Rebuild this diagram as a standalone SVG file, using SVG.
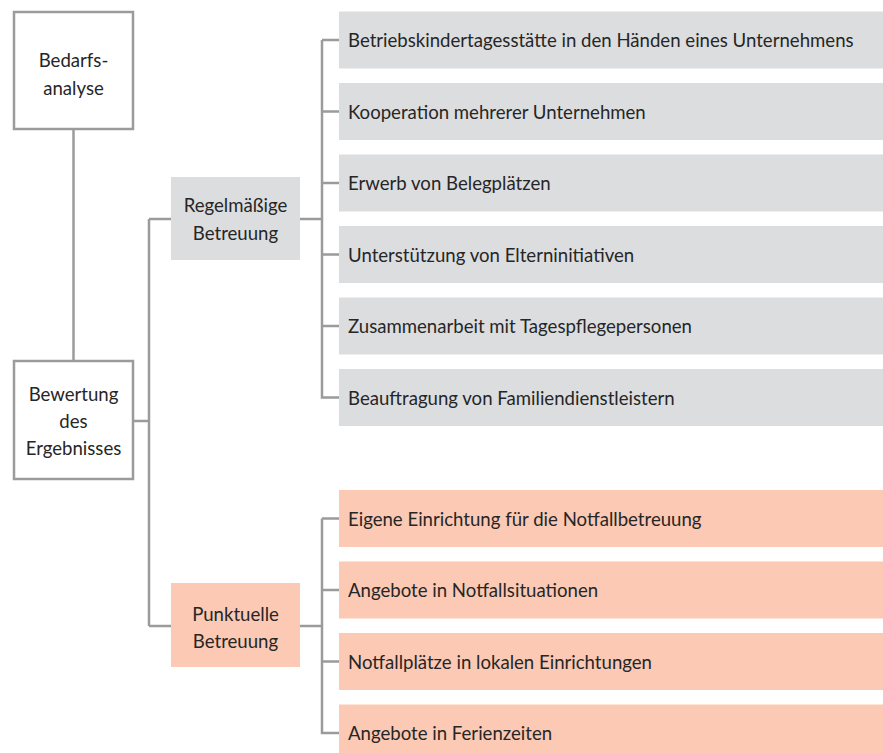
<svg xmlns="http://www.w3.org/2000/svg" width="883" height="753" viewBox="0 0 883 753">
<style>
.ln{fill:none;stroke:#9b9b9b;stroke-width:2.5}
.wb{fill:#fff;stroke:#9b9b9b;stroke-width:2.5}
.gb{fill:#dcdddf}
.pb{fill:#fbc9b4}
text{font-family:"Lato","Open Sans",sans-serif;font-size:18.6px;fill:#262626}
.c{text-anchor:middle}
</style>
<rect width="883" height="753" fill="#fff"/>
<g id="connectors">
<path class="ln" d="M73.5 129V361"/>
<path class="ln" d="M133 421H149M149 219V626M149 219H171M149 626H171"/>
<path class="ln" d="M300 219H322M322 40V397.5H339M322 40H339M322 111.5H339M322 183H339M322 254.5H339M322 326H339"/>
<path class="ln" d="M300 626H322M322 518.5V733H339M322 518.5H339M322 590H339M322 661.5H339"/>
</g>
<g id="n-bedarf"><rect class="wb" x="14" y="12" width="119" height="117"/><text class="c" x="73.5" y="67">Bedarfs-</text><text class="c" x="73.5" y="95">analyse</text></g>
<g id="n-bewertung"><rect class="wb" x="14" y="361" width="119" height="118"/><text class="c" x="73.5" y="401">Bewertung</text><text class="c" x="73.5" y="428">des</text><text class="c" x="73.5" y="455">Ergebnisses</text></g>
<g id="n-regel"><rect class="gb" x="171" y="177" width="129" height="83"/><text class="c" x="235.5" y="212">Regelmäßige</text><text class="c" x="235.5" y="240">Betreuung</text></g>
<g id="n-punkt"><rect class="pb" x="171" y="583" width="129" height="84"/><text class="c" x="235.5" y="621">Punktuelle</text><text class="c" x="235.5" y="648">Betreuung</text></g>
<g id="g1"><rect class="gb" x="339" y="11.5" width="544" height="57"/><text x="348" y="47">Betriebskindertagesstätte in den Händen eines Unternehmens</text></g>
<g id="g2"><rect class="gb" x="339" y="83" width="544" height="57"/><text x="348" y="118.5">Kooperation mehrerer Unternehmen</text></g>
<g id="g3"><rect class="gb" x="339" y="154.5" width="544" height="57"/><text x="348" y="190">Erwerb von Belegplätzen</text></g>
<g id="g4"><rect class="gb" x="339" y="226" width="544" height="57"/><text x="348" y="261.5">Unterstützung von Elterninitiativen</text></g>
<g id="g5"><rect class="gb" x="339" y="297.5" width="544" height="57"/><text x="348" y="333">Zusammenarbeit mit Tagespflegepersonen</text></g>
<g id="g6"><rect class="gb" x="339" y="369" width="544" height="57"/><text x="348" y="404.5">Beauftragung von Familiendienstleistern</text></g>
<g id="p1"><rect class="pb" x="339" y="490" width="544" height="57"/><text x="348" y="525.5">Eigene Einrichtung für die Notfallbetreuung</text></g>
<g id="p2"><rect class="pb" x="339" y="561.5" width="544" height="57"/><text x="348" y="597">Angebote in Notfallsituationen</text></g>
<g id="p3"><rect class="pb" x="339" y="633" width="544" height="57"/><text x="348" y="668.5">Notfallplätze in lokalen Einrichtungen</text></g>
<g id="p4"><rect class="pb" x="339" y="704.5" width="544" height="57"/><text x="348" y="740">Angebote in Ferienzeiten</text></g>
</svg>
